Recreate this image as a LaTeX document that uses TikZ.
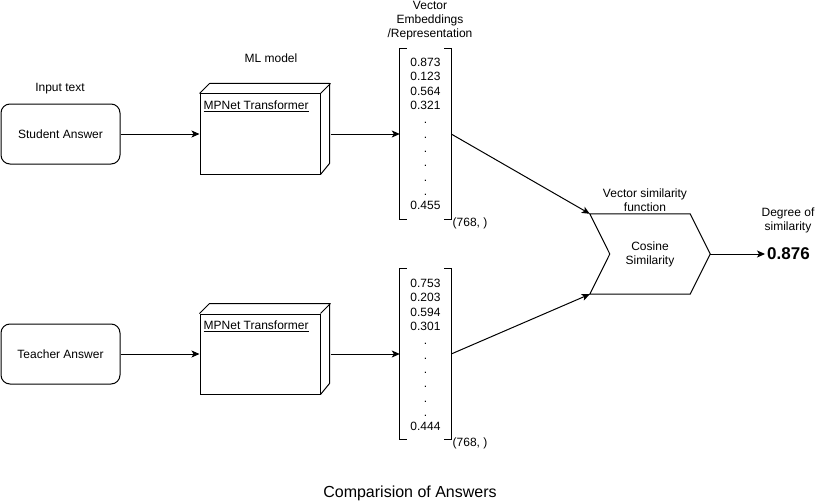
\documentclass[tikz,border=0pt]{standalone}
\usepackage{fontspec}
\setmainfont{Liberation Sans}
\usetikzlibrary{arrows.meta,calc}
\begin{document}
\begin{tikzpicture}[x=1pt,y=-1pt,
  every node/.style={font=\fontsize{12}{14}\selectfont},
  line/.style={line width=1pt, draw=black},
  arr/.style={line, -{Stealth[length=8pt,width=7pt,inset=2pt]}},
  inbox/.style={draw, line width=1pt, rounded corners=9pt, minimum width=119pt, minimum height=60pt, inner sep=0pt},
  face/.style={draw, line width=1pt, minimum width=120pt, minimum height=80pt, inner sep=0pt},
  vec/.style={minimum width=51pt, minimum height=170pt, inner sep=0pt},
  nums/.style={align=center, font=\fontsize{12}{14.3}\selectfont, inner sep=0pt},
  lbl/.style={align=center, inner sep=0pt},
]
\useasboundingbox (0,0) rectangle (817,503);
\fill[white] (0,0) rectangle (817,503);

% input boxes
\node[inbox] (s1) at (60.5,134) {Student Answer};
\node[inbox] (s2) at (60.5,354) {Teacher Answer};
\node[lbl] (inlbl) at (60,89) {Input text};

% ML model boxes
\node[face] (f1) at (260,134) {};
\draw[line, line join=round] (f1.north west) -- ++(10,-10) -- ++(120,0) -- ++(0,80) -- (f1.south east) (f1.north east) -- ++(10,-10);
\node[anchor=base west, inner sep=0pt] (t1) at ([xshift=4pt,yshift=-16pt]f1.north west) {\underline{MPNet Transformer}};
\node[face] (f2) at (260,354) {};
\draw[line, line join=round] (f2.north west) -- ++(10,-10) -- ++(120,0) -- ++(0,80) -- (f2.south east) (f2.north east) -- ++(10,-10);
\node[anchor=base west, inner sep=0pt] (t2) at ([xshift=4pt,yshift=-16pt]f2.north west) {\underline{MPNet Transformer}};
\node[lbl] (mllbl) at (271,58) {ML model};

% vectors
\node[vec] (v1) at (425.5,134) {};
\draw[line] ([xshift=7pt]v1.north west) -- (v1.north west) -- (v1.south west) -- ([xshift=7pt]v1.south west);
\draw[line] ([xshift=-7pt]v1.north east) -- (v1.north east) -- (v1.south east) -- ([xshift=-7pt]v1.south east);
\node[nums] (n1) at (425.5,134) {0.873\\0.123\\0.564\\0.321\\.\\.\\.\\.\\.\\.\\0.455};
\node[lbl] (d1) at (470,223) {(768, )};

\node[vec] (v2) at (425.5,354) {};
\draw[line] ([xshift=7pt]v2.north west) -- (v2.north west) -- (v2.south west) -- ([xshift=7pt]v2.south west);
\draw[line] ([xshift=-7pt]v2.north east) -- (v2.north east) -- (v2.south east) -- ([xshift=-7pt]v2.south east);
\node[nums] (n2) at (425.5,355) {0.753\\0.203\\0.594\\0.301\\.\\.\\.\\.\\.\\.\\0.444};
\node[lbl] (d2) at (470,443) {(768, )};

\node[lbl] (veclbl) at (430,21) {Vector\\Embeddings\\/Representation};

% cosine similarity
\node[minimum width=120pt, minimum height=80pt, inner sep=0pt, align=center] (cos) at (650,254) {Cosine\\Similarity};
\draw[line, line join=miter] (cos.north west) -- ([xshift=-20pt]cos.north east) -- (cos.east) -- ([xshift=-20pt]cos.south east) -- (cos.south west) -- ([xshift=20pt]cos.west) -- cycle;
\node[lbl] (simlbl) at (645,200) {Vector similarity\\function};

% output
\node[lbl, font=\fontsize{17}{20}\bfseries, inner sep=2pt] (out) at (788.5,254) {0.876};
\node[lbl] (deglbl) at (788,220) {Degree of\\similarity};

% title
\node[lbl, font=\fontsize{16}{19}\selectfont] (title) at (410,493) {Comparision of Answers};

% connectors
\draw[arr] (s1) -- (f1);
\draw[arr] (s2) -- (f2);
\draw[arr] ([xshift=10pt]f1.east) -- (v1.west);
\draw[arr] ([xshift=10pt]f2.east) -- (v2.west);
\draw[arr] (v1.east) -- (cos.north west);
\draw[arr] (v2.east) -- (cos.south west);
\draw[arr] (cos.east) -- (out.west);
\end{tikzpicture}
\end{document}
